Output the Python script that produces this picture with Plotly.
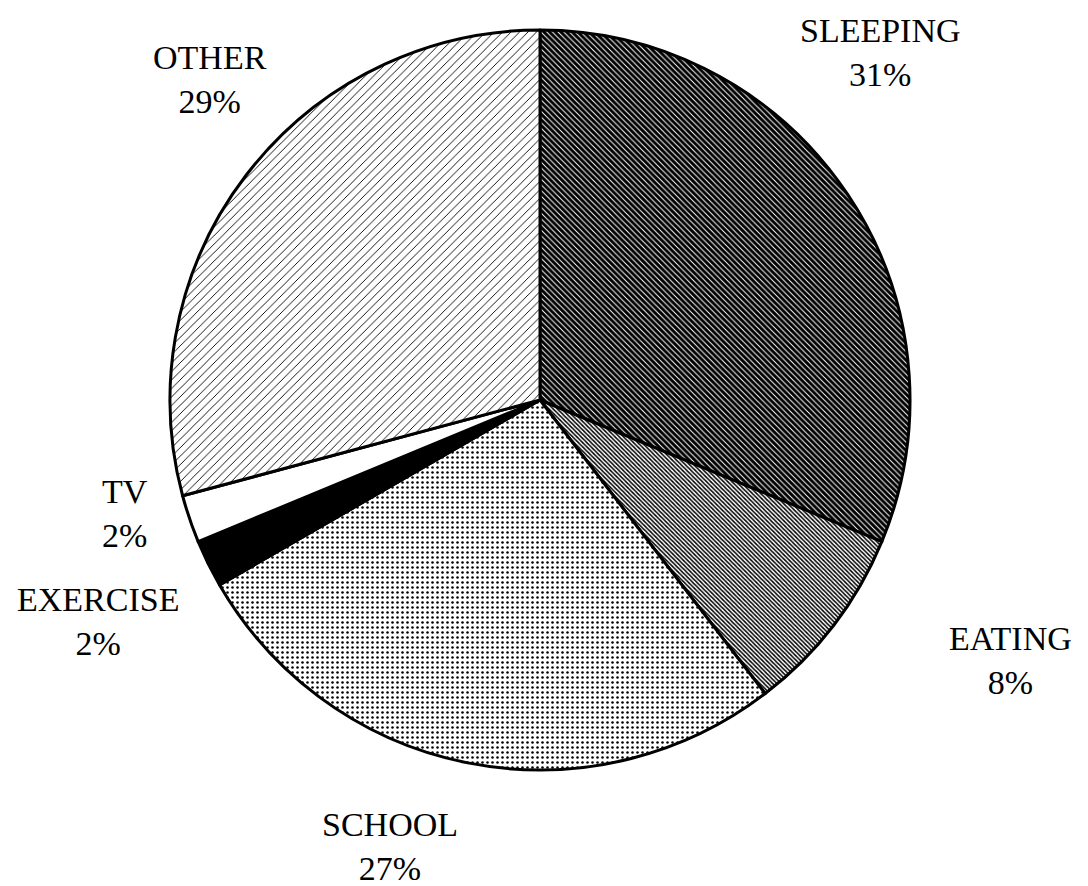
import plotly.graph_objects as go

categories = ["SLEEPING", "EATING", "SCHOOL", "EXERCISE", "TV", "OTHER"]
hours = [7.5, 2.0, 6.5, 0.5, 0.5, 7.0]

# label block centres in pixels (layout only)
label_px = [(880, 52), (1010, 660), (390, 846), (98, 621), (125, 513), (210, 80)]

W, H = 1088, 886
total = sum(hours)

pattern_shape = ["\\", "\\", ".", "", "", "/"]
pattern_fg = ["white", "black", "black", "black", "black", "black"]
pattern_bg = ["black", "white", "white", "black", "white", "white"]
pattern_size = [4, 3, 5, 6, 6, 6]
pattern_sol = [0.25, 0.5, 0.2, 0.3, 0.3, 0.15]

fig = go.Figure(go.Pie(
    labels=categories,
    values=hours,
    sort=False,
    direction="clockwise",
    rotation=0,
    textinfo="none",
    hoverinfo="label+percent",
    showlegend=False,
    marker=dict(
        colors=pattern_bg,
        line=dict(color="black", width=3),
        pattern=dict(shape=pattern_shape, fgcolor=pattern_fg, bgcolor=pattern_bg,
                     size=pattern_size, solidity=pattern_sol, fillmode="replace"),
    ),
    domain=dict(x=[170 / W, 910 / W], y=[1 - 770 / H, 1 - 30 / H]),
))

for cat, v, (px, py) in zip(categories, hours, label_px):
    fig.add_annotation(
        x=px / W, y=1 - py / H, xref="paper", yref="paper",
        text=f"{cat}<br>{round(100 * v / total)}%",
        showarrow=False, xanchor="center", yanchor="middle",
        font=dict(family="Liberation Serif", size=34, color="black"),
    )

fig.update_layout(
    width=W, height=H,
    margin=dict(l=0, r=0, t=0, b=0),
    paper_bgcolor="white", plot_bgcolor="white",
)
fig.write_html("out.html")
